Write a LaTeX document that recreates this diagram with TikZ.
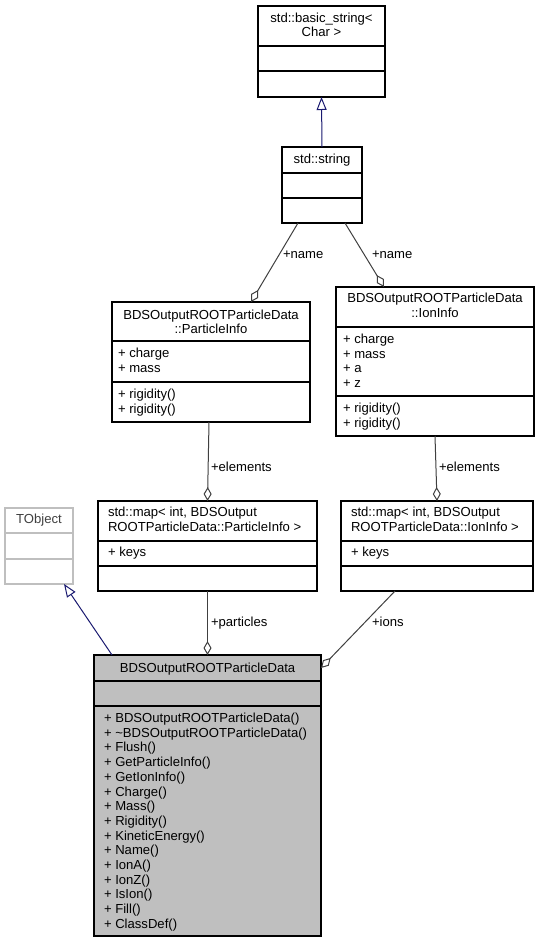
\documentclass[tikz,border=0pt]{standalone}
\usepackage{fontspec}
\setmainfont{Liberation Sans}
\usetikzlibrary{arrows.meta}
\definecolor{edgegray}{HTML}{404040}
\definecolor{inhblue}{HTML}{191970}
\definecolor{mainfill}{HTML}{BFBFBF}
\definecolor{tobjline}{HTML}{BFBFBF}
\definecolor{tobjtext}{HTML}{404040}
\begin{document}
\begin{tikzpicture}[x=1pt,y=-1pt,
  font=\fontsize{13.1}{14.7}\selectfont,
  classbox/.style={draw=black, line width=1.2pt, fill=white, inner sep=0pt, outer sep=0pt},
  sepline/.style={draw=black, line width=1.2pt},
  txt/.style={inner sep=0pt, outer sep=0pt},
  lefttxt/.style={txt, anchor=base west},
  ctrtxt/.style={txt, anchor=base},
  usage/.style={draw=edgegray, line width=1pt, -{Diamond[open, length=14pt, width=8pt]}},
  inherit/.style={draw=inhblue, line width=1pt, -{Triangle[open, length=13pt, width=10pt]}},
  elabel/.style={txt, anchor=base west},
]
\useasboundingbox[fill=white] (0,0) rectangle (540,943);

% std::basic_string<Char>
\node[classbox, minimum width=127pt, minimum height=91pt] (bs) at (321.5,51.5) {};
\draw[sepline] (bs.west |- 0,46) -- (bs.east |- 0,46);
\draw[sepline] (bs.west |- 0,71) -- (bs.east |- 0,71);
\node[ctrtxt] (bst1) at (321.5,22) {std::basic\_string<};
\node[ctrtxt] (bst2) at (321.5,36) {Char >};

% std::string
\node[classbox, minimum width=80pt, minimum height=76pt] (strg) at (322,185) {};
\draw[sepline] (strg.west |- 0,173) -- (strg.east |- 0,173);
\draw[sepline] (strg.west |- 0,198) -- (strg.east |- 0,198);
\node[ctrtxt] (strgt) at (322,163.5) {std::string};

% ParticleInfo
\node[classbox, minimum width=198pt, minimum height=120pt] (pinfo) at (211,362) {};
\draw[sepline] (pinfo.west |- 0,341) -- (pinfo.east |- 0,341);
\draw[sepline] (pinfo.west |- 0,382) -- (pinfo.east |- 0,382);
\node[ctrtxt] (pit1) at (211,319) {BDSOutputROOTParticleData};
\node[ctrtxt] (pit2) at (211,333.5) {::ParticleInfo};
\node[lefttxt] (pia1) at (118,357.5) {+ charge};
\node[lefttxt] (pia2) at (118,372.2) {+ mass};
\node[lefttxt] (pim1) at (118,398.5) {+ rigidity()};
\node[lefttxt] (pim2) at (118,413.2) {+ rigidity()};

% IonInfo
\node[classbox, minimum width=198pt, minimum height=149pt] (iinfo) at (435,361.5) {};
\draw[sepline] (iinfo.west |- 0,327) -- (iinfo.east |- 0,327);
\draw[sepline] (iinfo.west |- 0,396) -- (iinfo.east |- 0,396);
\node[ctrtxt] (iit1) at (435,302.5) {BDSOutputROOTParticleData};
\node[ctrtxt] (iit2) at (435,317.2) {::IonInfo};
\node[lefttxt] (iia1) at (343,343.5) {+ charge};
\node[lefttxt] (iia2) at (343,358.2) {+ mass};
\node[lefttxt] (iia3) at (343,372.9) {+ a};
\node[lefttxt] (iia4) at (343,387.6) {+ z};
\node[lefttxt] (iim1) at (343,412.5) {+ rigidity()};
\node[lefttxt] (iim2) at (343,427.2) {+ rigidity()};

% map ParticleInfo
\node[classbox, minimum width=219pt, minimum height=90pt] (mpi) at (207.5,546) {};
\draw[sepline] (mpi.west |- 0,541) -- (mpi.east |- 0,541);
\draw[sepline] (mpi.west |- 0,566) -- (mpi.east |- 0,566);
\node[lefttxt] (mpit1) at (108,516.5) {std::map< int, BDSOutput};
\node[lefttxt] (mpit2) at (108,531.2) {ROOTParticleData::ParticleInfo >};
\node[lefttxt] (mpia1) at (108,556.5) {+ keys};

% map IonInfo
\node[classbox, minimum width=192pt, minimum height=90pt] (mii) at (437,546) {};
\draw[sepline] (mii.west |- 0,541) -- (mii.east |- 0,541);
\draw[sepline] (mii.west |- 0,566) -- (mii.east |- 0,566);
\node[lefttxt] (miit1) at (351,516.5) {std::map< int, BDSOutput};
\node[lefttxt] (miit2) at (351,531.2) {ROOTParticleData::IonInfo >};
\node[lefttxt] (miia1) at (351,556.5) {+ keys};

% TObject
\node[classbox, draw=tobjline, minimum width=68pt, minimum height=76pt] (tobj) at (39,546) {};
\draw[sepline, draw=tobjline] (tobj.west |- 0,533) -- (tobj.east |- 0,533);
\draw[sepline, draw=tobjline] (tobj.west |- 0,559) -- (tobj.east |- 0,559);
\node[ctrtxt, text=tobjtext] (tobjt) at (39,523.5) {TObject};

% main class
\node[classbox, fill=mainfill, minimum width=227pt, minimum height=281pt] (main) at (207.5,795.5) {};
\draw[sepline] (main.west |- 0,681) -- (main.east |- 0,681);
\draw[sepline] (main.west |- 0,706) -- (main.east |- 0,706);
\node[ctrtxt] (maint) at (207.5,672.5) {BDSOutputROOTParticleData};
\foreach \t [count=\i from 0] in {%
  + BDSOutputROOTParticleData(),
  + \textasciitilde BDSOutputROOTParticleData(),
  + Flush(),
  + GetParticleInfo(),
  + GetIonInfo(),
  + Charge(),
  + Mass(),
  + Rigidity(),
  + KineticEnergy(),
  + Name(),
  + IonA(),
  + IonZ(),
  + IsIon(),
  + Fill(),
  + ClassDef()}
  \node[lefttxt] (meth\i) at (104,722.5+\i*14.7) {\t};

% connectors
\draw[inherit] (strg.north) -- (bs.south);
\draw[inherit] ([xshift=-95.5pt]main.north) -- ([xshift=25pt]tobj.south);
\draw[usage] ([xshift=-24pt]strg.south) -- ([xshift=40pt]pinfo.north);
\draw[usage] ([xshift=23pt]strg.south) -- ([xshift=-51pt]iinfo.north);
\draw[usage] ([xshift=-2pt]pinfo.south) -- (mpi.north);
\draw[usage] (iinfo.south) -- (mii.north);
\draw[usage] (mpi.south) -- (main.north);
\draw[usage] ([xshift=-42pt]mii.south) -- ([yshift=-13pt]main.north east);

% edge labels
\node[elabel] (lname1) at (283,258.5) {+name};
\node[elabel] (lname2) at (372,258.5) {+name};
\node[elabel] (lelem1) at (211,471.5) {+elements};
\node[elabel] (lelem2) at (439,471.5) {+elements};
\node[elabel] (lpart) at (211,626.5) {+particles};
\node[elabel] (lions) at (372,626.5) {+ions};
\end{tikzpicture}
\end{document}
